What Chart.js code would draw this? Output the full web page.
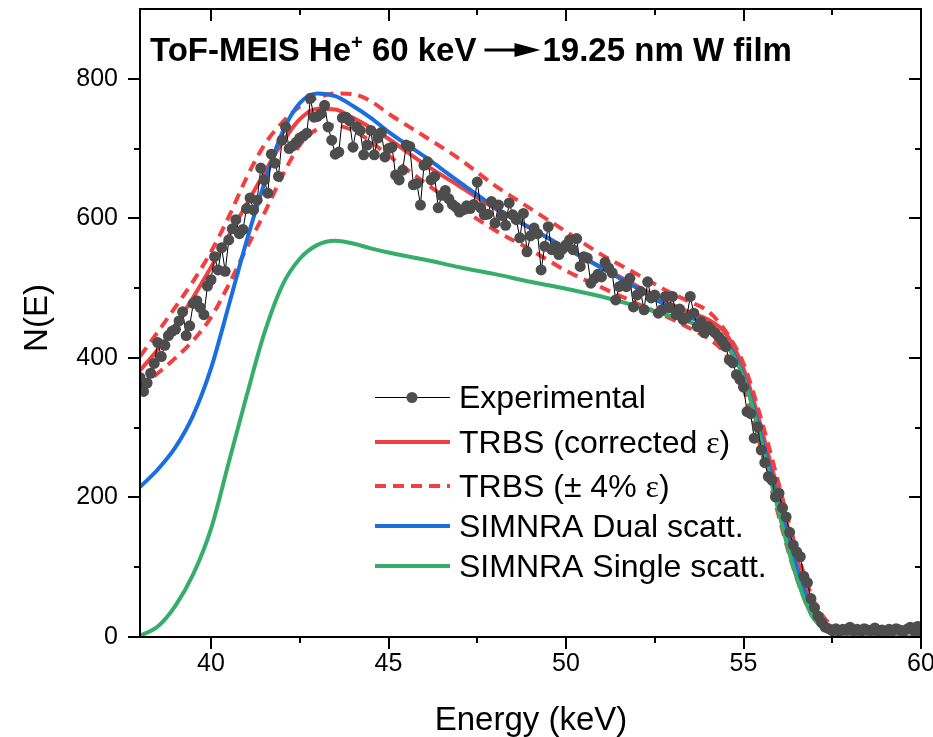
<!doctype html>
<html lang="en">
<head>
<meta charset="utf-8">
<title>ToF-MEIS He+ 60 keV - 19.25 nm W film</title>
<script src="https://cdn.jsdelivr.net/npm/chart.js@4.4.1/dist/chart.umd.min.js"></script>
<style>
  html, body { margin: 0; padding: 0; background: #fff; }
  canvas { display: block; }
</style>
</head>
<body>
<canvas id="chart" width="933" height="737"></canvas>
<script>
// ---------------- data ----------------
var xTicks = [40, 45, 50, 55, 60];
var xMinor = [42.5, 47.5, 52.5, 57.5];
var yTicks = [0, 200, 400, 600, 800];
var yMinor = [100, 300, 500, 700];

// experimental spectrum, energy (keV) and counts
var expE = [
  38.0,38.1,38.2,38.3,38.4,38.5,38.6,38.7,38.8,38.9,
  39.0,39.1,39.2,39.3,39.4,39.5,39.6,39.7,39.8,39.9,
  40.0,40.1,40.2,40.3,40.4,40.5,40.6,40.7,40.8,40.9,
  41.0,41.1,41.2,41.3,41.4,41.5,41.6,41.7,41.8,41.9,
  42.0,42.1,42.2,42.3,42.4,42.5,42.6,42.7,42.8,42.9,
  43.0,43.1,43.2,43.3,43.4,43.5,43.6,43.7,43.8,43.9,
  44.0,44.1,44.2,44.3,44.4,44.5,44.6,44.7,44.8,44.9,
  45.0,45.1,45.2,45.3,45.4,45.5,45.6,45.7,45.8,45.9,
  46.0,46.1,46.2,46.3,46.4,46.5,46.6,46.7,46.8,46.9,
  47.0,47.1,47.2,47.3,47.4,47.5,47.6,47.7,47.8,47.9,
  48.0,48.1,48.2,48.3,48.4,48.5,48.6,48.7,48.8,48.9,
  49.0,49.1,49.2,49.3,49.4,49.5,49.6,49.7,49.8,49.9,
  50.0,50.1,50.2,50.3,50.4,50.5,50.6,50.7,50.8,50.9,
  51.0,51.1,51.2,51.3,51.4,51.5,51.6,51.7,51.8,51.9,
  52.0,52.1,52.2,52.3,52.4,52.5,52.6,52.7,52.8,52.9,
  53.0,53.1,53.2,53.3,53.4,53.5,53.6,53.7,53.8,53.9,
  54.0,54.1,54.2,54.3,54.4,54.5,54.6,54.7,54.8,54.9,
  55.0,55.1,55.2,55.3,55.4,55.5,55.6,55.7,55.8,55.9,
  56.0,56.1,56.2,56.3,56.4,56.5,56.6,56.7,56.8,56.9,
  57.0,57.1,57.2,57.3,57.4,57.5,57.6,57.7,57.8,57.9,
  58.0,58.1,58.2,58.3,58.4,58.5,58.6,58.7,58.8,58.9,
  59.0,59.1,59.2,59.3,59.4,59.5,59.6,59.7,59.8,59.9,
  60.0
];
var expN = [
  372,352,364,378,392,422,402,418,432,438,
  441,453,466,432,446,478,482,472,462,503,
  512,545,526,558,524,569,585,598,578,584,
  614,629,612,626,672,655,636,692,679,660,
  712,731,700,704,709,715,718,722,772,745,
  746,750,762,731,712,692,695,744,745,740,
  702,731,726,691,705,726,691,715,723,688,
  700,702,662,655,669,705,703,648,650,619,
  676,681,655,660,615,633,640,628,620,616,
  609,612,618,614,620,652,615,605,606,624,
  593,619,604,590,622,605,598,572,607,552,
  575,586,578,526,560,588,555,560,548,556,
  562,569,555,571,531,545,543,507,514,520,
  516,537,529,522,483,502,505,502,514,473,
  490,495,469,509,486,490,464,469,488,472,
  488,462,470,455,458,488,464,445,452,436,
  445,440,436,430,424,416,397,393,376,369,
  358,323,320,285,301,268,250,230,225,201,
  206,185,172,150,132,122,115,87,78,55,
  42,30,21,14,12,9,12,8,11,10,
  14,9,11,8,12,10,9,13,8,10,
  7,11,9,12,10,8,11,14,9,15,
  7
];

// simulated curves on a common energy grid
var modelE = [38,38.5,39,39.5,40,40.5,41,41.5,42,42.5,43,43.5,44,44.5,45,46,47,48,49,50,
              51,52,53,53.5,54,54.5,55,55.25,55.5,55.75,56,56.25,56.5,56.75,57,57.5,58,59,60];
var trbs   = [382,412,447,487,530,575,620,665,708,742,757,756,744,730,714,678,646,614,586,557,
              530,503,476,465,455,435,385,345,300,252,205,157,113,73,42,12,3,0,0];
var trbsHi = [402,437,473,510,552,602,658,705,737,760,773,779,778,768,750,718,685,647,614,581,
              548,520,492,480,467,438,392,355,312,266,218,170,124,83,50,15,4,0,0];
var trbsLo = [358,378,400,425,458,505,557,607,660,705,728,733,726,710,690,652,616,583,555,525,
              501,478,455,442,428,405,355,315,268,220,172,125,84,50,25,5,1,0,0];
var dual   = [215,240,272,318,385,475,567,650,722,765,779,775,761,744,724,689,652,616,586,557,
              529,500,470,458,446,425,375,335,288,240,192,143,100,62,33,8,1,0,0];
var single = [2,15,45,90,155,250,345,435,503,542,562,568,564,557,551,541,530,520,509,499,
              488,474,459,451,440,420,372,330,280,228,178,128,85,50,25,5,0,0,0];

// ---------------- style ----------------
var RED = '#f14040', BLUE = '#1a6fdf', GREEN = '#37ad6b', DOT = '#4d4d4d';
var SANS = '"Liberation Sans", Arial, sans-serif';
var SERIF = '"Liberation Serif", "Times New Roman", serif';

function series(xs, ys) {
  return xs.map(function (x, i) { return { x: x, y: ys[i] }; });
}

function curve(label, ys, color, order, dash) {
  return {
    label: label, data: series(modelE, ys),
    borderColor: color, borderWidth: 4, borderDash: dash || [],
    pointRadius: 0, cubicInterpolationMode: 'monotone', fill: false, order: order
  };
}

// draws a row of [text, font, raise] pieces, returns end x
function drawParts(ctx, parts, x, y) {
  parts.forEach(function (p) {
    ctx.font = p[1];
    ctx.fillText(p[0], x, y - (p[2] || 0));
    x += ctx.measureText(p[0]).width;
  });
  return x;
}

var decor = {
  id: 'decor',
  beforeDraw: function (chart) {
    var ctx = chart.ctx;
    ctx.save();
    ctx.fillStyle = '#fff';
    ctx.fillRect(0, 0, chart.width, chart.height);
    ctx.restore();
  },
  afterDraw: function (chart) {
    var ctx = chart.ctx, a = chart.chartArea;
    var xs = chart.scales.x, ys = chart.scales.y;
    ctx.save();

    // frame + ticks
    ctx.strokeStyle = '#000';
    ctx.lineWidth = 2;
    ctx.strokeRect(a.left, a.top, a.right - a.left, a.bottom - a.top);
    ctx.beginPath();
    function tickX(v, len) {
      var px = Math.round(xs.getPixelForValue(v));
      ctx.moveTo(px, a.bottom); ctx.lineTo(px, a.bottom + len);
      ctx.moveTo(px, a.top); ctx.lineTo(px, a.top + len);
    }
    function tickY(v, len) {
      var py = Math.round(ys.getPixelForValue(v));
      ctx.moveTo(a.left, py); ctx.lineTo(a.left - len, py);
      ctx.moveTo(a.right, py); ctx.lineTo(a.right - len, py);
    }
    xTicks.forEach(function (v) { tickX(v, 12); });
    xMinor.forEach(function (v) { tickX(v, 6); });
    yTicks.forEach(function (v) { tickY(v, 12); });
    yMinor.forEach(function (v) { tickY(v, 6); });
    ctx.stroke();

    ctx.fillStyle = '#000';
    ctx.textBaseline = 'alphabetic';

    // axis titles
    ctx.font = '33px ' + SANS;
    ctx.textAlign = 'center';
    ctx.fillText('Energy (keV)', 531, 730);
    ctx.save();
    ctx.translate(47, 318);
    ctx.rotate(-Math.PI / 2);
    ctx.fillText('N(E)', 0, 0);
    ctx.restore();

    // title with arrow
    ctx.textAlign = 'left';
    var bold = 'bold 33px ' + SANS;
    var tx = drawParts(ctx, [['ToF-MEIS He', bold], ['+', 'bold 20px ' + SANS, 12], [' 60 keV', bold]], 150, 61);
    var ay = 50, ax0 = tx + 8, ax1 = ax0 + 56;
    ctx.lineWidth = 3;
    ctx.beginPath(); ctx.moveTo(ax0, ay); ctx.lineTo(ax1 - 20, ay); ctx.stroke();
    ctx.beginPath();
    ctx.moveTo(ax1, ay); ctx.lineTo(ax1 - 26, ay - 7); ctx.lineTo(ax1 - 26, ay + 7);
    ctx.closePath(); ctx.fill();
    drawParts(ctx, [['19.25 nm W film', bold]], ax1 + 2, 61);

    // legend
    var f = '32px ' + SANS, g = '32px ' + SERIF;
    var rows = [
      { y: 397, kind: 'exp', parts: [['Experimental', f]] },
      { y: 442, kind: 'solid', color: RED, parts: [['TRBS (corrected ', f], ['\u03b5', g], [')', f]] },
      { y: 486, kind: 'dash', color: RED, parts: [['TRBS (', f], ['\u00b1', f], [' 4% ', f], ['\u03b5', g], [')', f]] },
      { y: 526, kind: 'solid', color: BLUE, parts: [['SIMNRA Dual scatt.', f]] },
      { y: 566, kind: 'solid', color: GREEN, parts: [['SIMNRA Single scatt.', f]] }
    ];
    rows.forEach(function (r) {
      ctx.save();
      if (r.kind === 'exp') {
        ctx.strokeStyle = '#000'; ctx.lineWidth = 1;
        ctx.beginPath(); ctx.moveTo(375, r.y + 0.5); ctx.lineTo(450, r.y + 0.5); ctx.stroke();
        ctx.fillStyle = DOT;
        ctx.beginPath(); ctx.arc(412, r.y + 0.5, 5.5, 0, Math.PI * 2); ctx.fill();
      } else {
        ctx.strokeStyle = r.color; ctx.lineWidth = 4;
        if (r.kind === 'dash') ctx.setLineDash([11, 7]);
        ctx.beginPath(); ctx.moveTo(375, r.y); ctx.lineTo(450, r.y); ctx.stroke();
      }
      ctx.restore();
      drawParts(ctx, r.parts, 459, r.y + 11);
    });

    ctx.restore();
  }
};

new Chart(document.getElementById('chart'), {
  type: 'line',
  data: {
    datasets: [
      {
        label: 'Experimental', data: series(expE, expN),
        borderColor: '#000', borderWidth: 1, tension: 0,
        pointRadius: 5.5, pointBackgroundColor: DOT, pointBorderColor: DOT, pointBorderWidth: 0,
        fill: false, order: 0
      },
      curve('SIMNRA Single scatt.', single, GREEN, 1),
      curve('SIMNRA Dual scatt.', dual, BLUE, 2),
      curve('TRBS (corrected ε)', trbs, RED, 3),
      curve('TRBS (± 4% ε)', trbsHi, RED, 4, [11, 7]),
      curve('TRBS (- 4% ε)', trbsLo, RED, 5, [11, 7])
    ]
  },
  options: {
    responsive: false,
    animation: false,
    devicePixelRatio: 1,
    layout: { padding: { left: 0, right: 12, top: 9, bottom: 0 } },
    plugins: { legend: { display: false }, tooltip: { enabled: false } },
    scales: {
      x: {
        type: 'linear', min: 38, max: 60,
        grid: { display: false, drawTicks: false }, border: { display: false },
        afterBuildTicks: function (s) { s.ticks = xTicks.map(function (v) { return { value: v }; }); },
        afterFit: function (s) { s.height = 100; s.paddingLeft = 0; s.paddingRight = 0; },
        ticks: { color: '#000', font: { family: SANS, size: 25 }, padding: 12, maxRotation: 0, autoSkip: false }
      },
      y: {
        type: 'linear', min: 0, max: 900,
        grid: { display: false, drawTicks: false }, border: { display: false },
        afterBuildTicks: function (s) { s.ticks = yTicks.map(function (v) { return { value: v }; }); },
        afterFit: function (s) { s.width = 140; s.paddingTop = 0; s.paddingBottom = 0; },
        ticks: { color: '#000', font: { family: SANS, size: 25 }, padding: 22, autoSkip: false }
      }
    }
  },
  plugins: [decor]
});
</script>
</body>
</html>
